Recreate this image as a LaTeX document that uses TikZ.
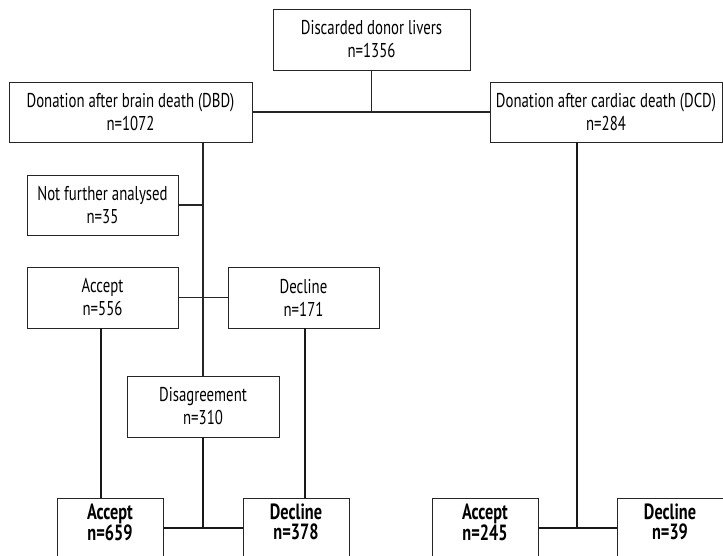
\documentclass[tikz,border=0pt]{standalone}
\usepackage{fontspec}
\setmainfont[FakeStretch=0.74]{PT Sans}
\begin{document}
\begin{tikzpicture}[x=1pt,y=-1pt,
  box/.style={draw=black!85,line width=0.9pt,inner sep=0pt,align=center,
    font=\fontsize{20}{23}\selectfont,minimum height=61pt},
  bbox/.style={box,font=\fontsize{22}{20}\selectfont\bfseries,text depth=13pt},
  thin/.style={line width=1.1pt,black!85},
  thick/.style={line width=2.1pt,black!90}]
\useasboundingbox (0,0) rectangle (723,555);
\node[box,minimum width=197pt] (top) at (371.5,39.5) {Discarded donor livers\\n=1356};
\node[box,minimum width=243pt,minimum height=60pt] (dbd) at (130.5,112) {Donation after brain death (DBD)\\n=1072};
\node[box,minimum width=232pt,minimum height=60pt] (dcd) at (606,112) {Donation after cardiac death (DCD)\\n=284};
\node[box,minimum width=151pt,minimum height=60pt] (nfa) at (102.5,205) {Not further analysed\\n=35};
\node[box,minimum width=151pt] (acc1) at (102.5,297.5) {Accept\\n=556};
\node[box,minimum width=151pt] (dec1) at (303.5,297.5) {Decline\\n=171};
\node[box,minimum width=152pt] (dis) at (203,406.5) {Disagreement\\n=310};
\node[bbox,minimum width=106pt] (acc2) at (110,528.5) {Accept\\n=659};
\node[bbox,minimum width=106pt] (dec2) at (296,528.5) {Decline\\n=378};
\node[bbox,minimum width=106pt] (acc3) at (485,528.5) {Accept\\n=245};
\node[bbox,minimum width=106pt] (dec3) at (670,528.5) {Decline\\n=39};
% top split
\coordinate (tj) at (top.south |- dbd.east);
\draw[thin] (top.south) -- (tj);
\draw[thin] (dbd.east) -- (dcd.west);
% DBD trunk
\coordinate (trunk) at (203,0);
\coordinate (tdbd) at (trunk |- dbd.south);
\draw[thin] (tdbd) -- (dis.north);
\draw[thin] (nfa.east) -- (nfa.east -| trunk);
\draw[thin] (acc1.east) -- (dec1.west);
% thick lines
\coordinate (a1x) at (101,0);
\coordinate (d1x) at (305,0);
\coordinate (jy) at (0,528);
\draw[thick] (acc1.south -| a1x) -- (acc2.north -| a1x);
\draw[thick] (dec1.south -| d1x) -- (dec2.north -| d1x);
\draw[thick] (acc2.east |- jy) -- (dec2.west |- jy);
\draw[thick] (dis.south) -- (dis.south |- jy);
\coordinate (dcx) at (577,0);
\draw[thick] (acc3.east |- jy) -- (dec3.west |- jy);
\draw[thick] (dcd.south -| dcx) -- (dcx |- jy);
\end{tikzpicture}
\end{document}
